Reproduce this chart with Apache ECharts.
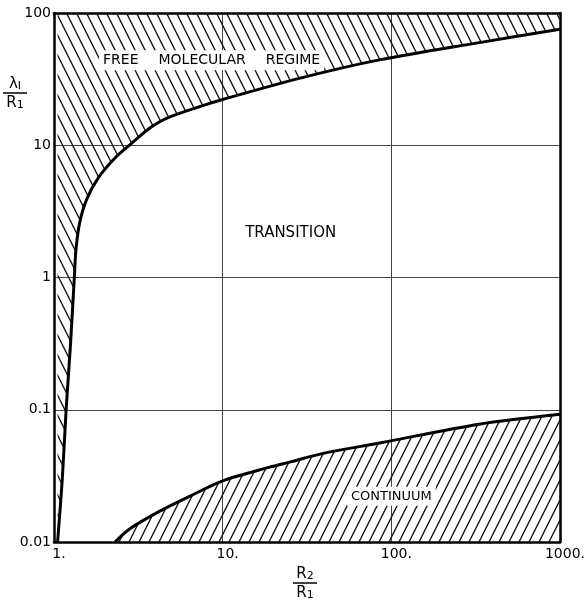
<!DOCTYPE html>
<html>
<head>
<meta charset="utf-8">
<script src="https://cdn.jsdelivr.net/npm/echarts@6/dist/echarts.min.js"></script>
<style>
  html, body { margin: 0; padding: 0; background: #fff; }
  #chart { width: 585px; height: 607px; }
</style>
</head>
<body>
<div id="chart"></div>
<script>
// Граница свободно-молекулярного режима (x = R2/R1, y = λI/R1)
const freeBoundary = [
  [1.05, 0.01], [1.12, 0.03], [1.18, 0.1], [1.25, 0.3], [1.32, 1],
  [1.35, 1.63], [1.42, 2.6], [1.56, 3.88], [1.83, 5.66], [2.3, 8.0],
  [2.85, 10.2], [3.7, 13.5], [4.64, 16.0], [7.3, 19.6], [10, 22.2],
  [30, 32.6], [85, 44.2], [332, 59.7], [1000, 75.3]
];
// Граница континуального режима
const continuumBoundary = [
  [2.3, 0.01], [2.82, 0.0126], [4.24, 0.0171], [6.4, 0.0222], [10, 0.029],
  [19, 0.0368], [25, 0.0402], [40, 0.047], [85, 0.056], [332, 0.0778],
  [1000, 0.0924]
];
const xTicks = [1, 10, 100, 1000];
const yTicks = [0.01, 0.1, 1, 10, 100];
// Подписи областей: [текст, x, y, размер шрифта]
const regionLabels = [
  ['{a|FREE}{g|}{a|MOLECULAR}{g|}{a|REGIME}', 8.6, 44, 14],
  ['TRANSITION', 25.3, 2.15, 15],
  ['CONTINUUM', 100, 0.0222, 13]
];

// Штриховка
function hatch(back) {
  const c = document.createElement('canvas');
  c.width = 10; c.height = 20;
  const ctx = c.getContext('2d');
  ctx.strokeStyle = '#111';
  ctx.lineWidth = 1.3;
  for (const x0 of [-10, 0, 10]) {
    ctx.beginPath();
    if (back) { ctx.moveTo(x0 - 1, -2); ctx.lineTo(x0 + 11, 22); }
    else { ctx.moveTo(x0 + 11, -2); ctx.lineTo(x0 - 1, 22); }
    ctx.stroke();
  }
  return c;
}

const font = 'DejaVu Sans';
const chart = echarts.init(document.getElementById('chart'));

const frameAxis = {
  type: 'log', logBase: 10, min: 1, max: 1000,
  axisLine: { show: true, lineStyle: { color: '#000', width: 2.5 } },
  axisTick: { show: false }, axisLabel: { show: false }, splitLine: { show: false }
};

const fraction = (top, bottom, cx, y) => ([
  {
    type: 'text', x: cx, y: y, z: 10,
    style: {
      text: top, fontFamily: font, align: 'center', verticalAlign: 'bottom',
      rich: { m: { fontSize: 15, fontFamily: font, fill: '#000' },
              s: { fontSize: 11, fontFamily: font, fill: '#000', padding: [5, 0, 0, 0] } }
    }
  },
  { type: 'line', z: 10, shape: { x1: cx - 12, y1: y + 1, x2: cx + 12, y2: y + 1 }, style: { stroke: '#000', lineWidth: 1.5 } },
  {
    type: 'text', x: cx, y: y + 3, z: 10,
    style: {
      text: bottom, fontFamily: font, align: 'center', verticalAlign: 'top',
      rich: { m: { fontSize: 15, fontFamily: font, fill: '#000' },
              s: { fontSize: 11, fontFamily: font, fill: '#000', padding: [5, 0, 0, 0] } }
    }
  }
]);

const option = {
  animation: false,
  grid: { left: 54, right: 25, top: 13, bottom: 65, outerBoundsMode: 'none', containLabel: false },
  xAxis: [{
    type: 'log', logBase: 10, min: 1, max: 1000,
    axisLine: { show: true, lineStyle: { color: '#000', width: 2.5 } },
    axisTick: { show: false },
    axisLabel: {
      color: '#000', fontFamily: font, fontSize: 14, margin: 5,
      padding: [0, 0, 0, 10],
      formatter: v => xTicks.includes(v) ? v + '.' : ''
    },
    splitLine: { show: true, lineStyle: { color: '#444', width: 1 } }
  }, Object.assign({}, frameAxis, { position: 'top' })],
  yAxis: [{
    type: 'log', logBase: 10, min: 0.01, max: 100,
    axisLine: { show: true, lineStyle: { color: '#000', width: 2.5 } },
    axisTick: { show: false },
    axisLabel: {
      color: '#000', fontFamily: font, fontSize: 14, margin: 3,
      formatter: v => yTicks.includes(v) ? String(v) : ''
    },
    splitLine: { show: true, lineStyle: { color: '#444', width: 1 } }
  }, Object.assign({}, frameAxis, { position: 'right', min: 0.01, max: 100 })],
  series: [
    {
      type: 'line', data: freeBoundary, smooth: 0.3, showSymbol: false,
      lineStyle: { color: '#000', width: 3 },
      areaStyle: { origin: 'end', color: { image: hatch(true), repeat: 'repeat' }, opacity: 1 },
      z: 3
    },
    {
      type: 'line', data: continuumBoundary, smooth: 0.3, showSymbol: false,
      lineStyle: { color: '#000', width: 3 },
      areaStyle: { origin: 'start', color: { image: hatch(false), repeat: 'repeat' }, opacity: 1 },
      z: 3
    }
  ],
  graphic: [].concat(
    fraction('{m|λ}{s|I}', '{m|R}{s|1}', 15, 92),
    fraction('{m|R}{s|2}', '{m|R}{s|1}', 305, 582)
  )
};

chart.setOption(option);

// Подписи областей в координатах данных
const labelGraphics = regionLabels.map(l => {
  const p = chart.convertToPixel({ xAxisIndex: 0, yAxisIndex: 0 }, [l[1], l[2]]);
  return {
    type: 'text', x: p[0], y: p[1], z: 10,
    style: {
      text: l[0], fontFamily: font, fontSize: l[3], fill: '#000',
      align: 'center', verticalAlign: 'middle',
      backgroundColor: '#fff', padding: [3, 4],
      rich: {
        a: { fontFamily: font, fontSize: l[3], fill: '#000' },
        g: { width: 20 }
      }
    }
  };
});
chart.setOption({ graphic: option.graphic.concat(labelGraphics) });
</script>
</body>
</html>
